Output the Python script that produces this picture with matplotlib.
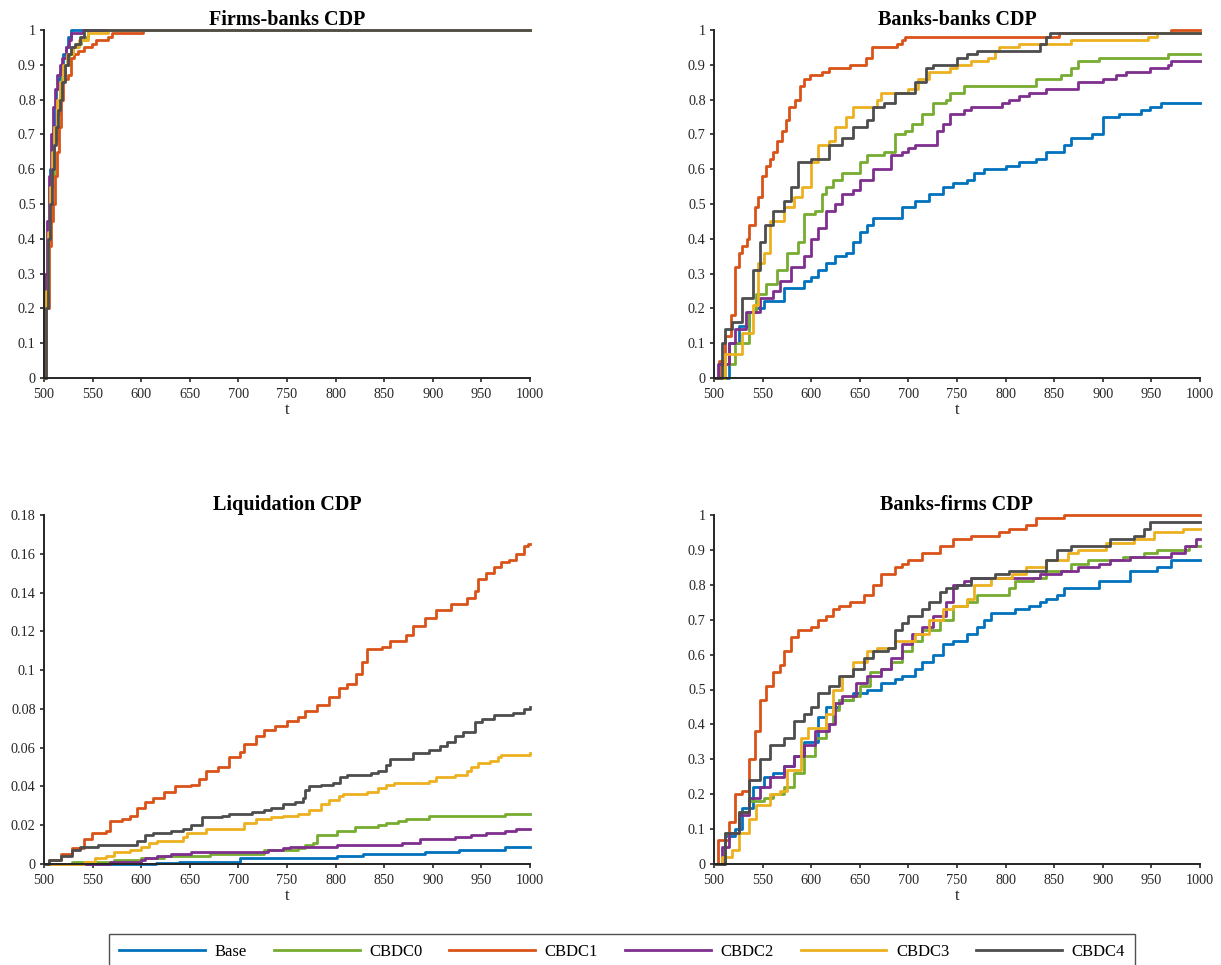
import matplotlib
matplotlib.use('Agg')
import matplotlib.pyplot as plt
from matplotlib.ticker import FuncFormatter
from matplotlib.lines import Line2D

# ---------------- data ----------------
SERIES = ['Base', 'CBDC0', 'CBDC1', 'CBDC2', 'CBDC3', 'CBDC4']
COLORS = ['#0072BD', '#77AC30', '#D95319', '#7E2F8E', '#EDB120', '#4D4D4D']

# Firms-banks CDP
FB_BASE_T = [500, 502, 504, 506, 508, 510, 512, 514, 516, 518, 520, 523, 525, 528, 1000]
FB_BASE_Y = [0, 0.25, 0.45, 0.60, 0.70, 0.78, 0.83, 0.86, 0.88, 0.90, 0.93, 0.95, 0.98, 1.0, 1.0]
FB_CBDC0_T = [500, 502, 504, 507, 510, 513, 516, 519, 522, 526, 530, 534, 538, 542, 545, 1000]
FB_CBDC0_Y = [0, 0.30, 0.45, 0.58, 0.68, 0.76, 0.82, 0.87, 0.90, 0.93, 0.95, 0.96, 0.97, 0.98, 1.0, 1.0]
FB_CBDC1_T = [500, 502, 505, 507, 509, 511, 513, 515, 518, 520, 525, 528, 531, 535, 541, 549, 554, 566, 570, 602, 1000]
FB_CBDC1_Y = [0, 0.20, 0.38, 0.45, 0.50, 0.58, 0.65, 0.72, 0.80, 0.86, 0.87, 0.92, 0.93, 0.94, 0.95, 0.96, 0.97, 0.98, 0.99, 1.0, 1.0]
FB_CBDC2_T = [500, 501, 503, 505, 507, 509, 511, 513, 516, 519, 523, 526, 528, 540, 1000]
FB_CBDC2_Y = [0, 0.30, 0.45, 0.58, 0.70, 0.78, 0.83, 0.87, 0.90, 0.92, 0.95, 0.97, 0.99, 1.0, 1.0]
FB_CBDC3_T = [500, 502, 504, 506, 508, 510, 513, 516, 520, 524, 530, 536, 545, 566, 1000]
FB_CBDC3_Y = [0, 0.25, 0.42, 0.55, 0.65, 0.72, 0.80, 0.85, 0.90, 0.93, 0.95, 0.97, 0.99, 1.0, 1.0]
FB_CBDC4_T = [500, 502, 504, 506, 508, 510, 512, 514, 516, 519, 522, 525, 528, 532, 537, 541, 1000]
FB_CBDC4_Y = [0, 0.20, 0.40, 0.50, 0.60, 0.67, 0.72, 0.77, 0.80, 0.85, 0.90, 0.93, 0.95, 0.96, 0.98, 1.0, 1.0]

# Banks-banks CDP
BB_BASE_T = [500, 515, 526, 536, 543, 551, 572, 593, 600, 607, 615, 625, 636, 643, 650, 657, 664, 693, 707, 721, 736, 746, 760, 767, 778, 800, 814, 831, 842, 860, 867, 889, 900, 917, 939, 949, 960, 1000]
BB_BASE_Y = [0, 0.10, 0.15, 0.19, 0.20, 0.22, 0.26, 0.28, 0.29, 0.31, 0.33, 0.35, 0.36, 0.39, 0.42, 0.44, 0.46, 0.49, 0.51, 0.53, 0.55, 0.56, 0.57, 0.59, 0.60, 0.61, 0.62, 0.63, 0.65, 0.67, 0.69, 0.70, 0.75, 0.76, 0.77, 0.78, 0.79, 0.79]
BB_CBDC0_T = [500, 504, 511, 522, 536, 543, 554, 565, 575, 586, 593, 604, 611, 615, 622, 632, 650, 657, 675, 686, 696, 704, 714, 725, 739, 743, 757, 817, 831, 857, 867, 874, 896, 967, 1000]
BB_CBDC0_Y = [0, 0, 0.04, 0.10, 0.19, 0.24, 0.27, 0.31, 0.36, 0.39, 0.47, 0.48, 0.53, 0.55, 0.57, 0.59, 0.62, 0.64, 0.65, 0.70, 0.71, 0.73, 0.76, 0.79, 0.80, 0.82, 0.84, 0.84, 0.86, 0.87, 0.89, 0.91, 0.92, 0.93, 0.93]
BB_CBDC1_T = [500, 505, 511, 518, 522, 526, 529, 534, 536, 542, 545, 549, 554, 558, 561, 565, 570, 574, 577, 583, 588, 593, 599, 611, 618, 640, 656, 663, 688, 693, 696, 855, 970, 1000]
BB_CBDC1_Y = [0, 0.05, 0.12, 0.18, 0.32, 0.36, 0.38, 0.40, 0.44, 0.49, 0.52, 0.58, 0.61, 0.63, 0.65, 0.68, 0.71, 0.74, 0.78, 0.80, 0.84, 0.86, 0.87, 0.88, 0.89, 0.90, 0.92, 0.95, 0.96, 0.97, 0.98, 0.99, 1.0, 1.0]
BB_CBDC2_T = [500, 504, 515, 522, 533, 547, 561, 568, 579, 593, 600, 607, 615, 625, 632, 643, 650, 664, 682, 693, 700, 707, 729, 736, 743, 757, 764, 796, 803, 814, 824, 842, 874, 900, 914, 924, 949, 967, 970, 1000]
BB_CBDC2_Y = [0, 0.04, 0.10, 0.14, 0.19, 0.23, 0.25, 0.28, 0.32, 0.35, 0.40, 0.43, 0.48, 0.50, 0.53, 0.54, 0.57, 0.60, 0.64, 0.65, 0.66, 0.67, 0.71, 0.73, 0.76, 0.77, 0.78, 0.79, 0.80, 0.81, 0.82, 0.83, 0.85, 0.86, 0.87, 0.88, 0.89, 0.90, 0.91, 0.91]
BB_CBDC3_T = [500, 511, 529, 540, 545, 551, 558, 572, 582, 591, 600, 607, 618, 625, 636, 643, 668, 672, 700, 710, 721, 743, 750, 764, 782, 789, 793, 814, 867, 946, 956, 1000]
BB_CBDC3_Y = [0, 0.07, 0.13, 0.21, 0.33, 0.36, 0.45, 0.49, 0.52, 0.55, 0.62, 0.67, 0.68, 0.72, 0.75, 0.78, 0.80, 0.82, 0.83, 0.86, 0.88, 0.89, 0.90, 0.91, 0.92, 0.94, 0.95, 0.96, 0.97, 0.98, 0.99, 0.99]
BB_CBDC4_T = [500, 508, 511, 519, 529, 540, 547, 552, 561, 572, 579, 586, 600, 618, 632, 643, 657, 664, 675, 686, 707, 718, 725, 750, 760, 771, 824, 835, 842, 846, 1000]
BB_CBDC4_Y = [0, 0.10, 0.14, 0.16, 0.23, 0.31, 0.39, 0.44, 0.48, 0.51, 0.55, 0.62, 0.63, 0.67, 0.69, 0.72, 0.74, 0.78, 0.79, 0.82, 0.85, 0.89, 0.90, 0.92, 0.93, 0.94, 0.94, 0.96, 0.98, 0.99, 0.99]

# Liquidation CDP
LQ_BASE_T = [500, 615, 639, 702, 801, 828, 892, 927, 974, 1000]
LQ_BASE_Y = [0, 0.0005, 0.001, 0.003, 0.004, 0.005, 0.006, 0.007, 0.009, 0.009]
LQ_CBDC0_T = [500, 529, 572, 600, 623, 671, 726, 761, 769, 777, 781, 801, 820, 844, 852, 864, 872, 896, 974, 1000]
LQ_CBDC0_Y = [0, 0.001, 0.002, 0.003, 0.004, 0.005, 0.007, 0.008, 0.010, 0.011, 0.015, 0.017, 0.019, 0.020, 0.021, 0.022, 0.023, 0.025, 0.026, 0.026]
LQ_CBDC1_T = [500, 505, 517, 529, 541, 549, 564, 568, 580, 588, 596, 604, 612, 623, 635, 651, 659, 667, 679, 690, 702, 706, 718, 726, 738, 750, 761, 769, 781, 793, 804, 812, 821, 827, 832, 848, 856, 872, 880, 892, 903, 919, 935, 943, 947, 955, 963, 970, 978, 986, 994, 998, 1000]
LQ_CBDC1_Y = [0, 0.002, 0.005, 0.008, 0.013, 0.016, 0.017, 0.022, 0.023, 0.025, 0.029, 0.032, 0.034, 0.037, 0.040, 0.041, 0.044, 0.048, 0.050, 0.055, 0.058, 0.062, 0.066, 0.069, 0.071, 0.074, 0.076, 0.079, 0.082, 0.086, 0.091, 0.093, 0.098, 0.104, 0.111, 0.112, 0.115, 0.118, 0.123, 0.127, 0.131, 0.134, 0.137, 0.141, 0.147, 0.150, 0.153, 0.156, 0.157, 0.160, 0.164, 0.165, 0.165]
LQ_CBDC2_T = [500, 568, 600, 604, 616, 631, 651, 730, 746, 753, 801, 868, 887, 923, 939, 955, 974, 986, 1000]
LQ_CBDC2_Y = [0, 0.001, 0.002, 0.003, 0.004, 0.005, 0.006, 0.007, 0.008, 0.009, 0.010, 0.011, 0.013, 0.014, 0.015, 0.016, 0.017, 0.018, 0.018]
LQ_CBDC3_T = [500, 541, 552, 564, 572, 588, 600, 608, 616, 643, 647, 667, 706, 718, 734, 746, 761, 773, 785, 793, 804, 808, 832, 844, 852, 860, 896, 903, 923, 935, 939, 947, 959, 967, 970, 1000]
LQ_CBDC3_Y = [0, 0.001, 0.003, 0.004, 0.006, 0.007, 0.009, 0.011, 0.012, 0.014, 0.016, 0.018, 0.021, 0.023, 0.024, 0.025, 0.026, 0.028, 0.031, 0.033, 0.035, 0.036, 0.037, 0.039, 0.041, 0.042, 0.043, 0.045, 0.046, 0.048, 0.050, 0.052, 0.053, 0.055, 0.056, 0.057]
LQ_CBDC4_T = [500, 505, 517, 529, 537, 556, 596, 604, 612, 631, 643, 651, 663, 683, 690, 714, 726, 734, 746, 758, 766, 769, 773, 785, 797, 805, 812, 836, 844, 852, 856, 880, 896, 907, 915, 923, 931, 943, 951, 963, 982, 994, 1000]
LQ_CBDC4_Y = [0, 0.002, 0.004, 0.007, 0.009, 0.010, 0.012, 0.015, 0.016, 0.017, 0.018, 0.020, 0.024, 0.025, 0.026, 0.027, 0.028, 0.029, 0.031, 0.032, 0.034, 0.038, 0.040, 0.041, 0.042, 0.045, 0.046, 0.047, 0.048, 0.051, 0.054, 0.057, 0.059, 0.061, 0.063, 0.066, 0.068, 0.073, 0.075, 0.077, 0.078, 0.080, 0.081]

# Banks-firms CDP
BF_BASE_T = [500, 511, 522, 529, 540, 551, 561, 572, 582, 593, 607, 615, 629, 643, 657, 672, 686, 693, 707, 714, 725, 736, 746, 760, 771, 778, 785, 810, 824, 835, 842, 853, 860, 896, 928, 956, 970, 1000]
BF_BASE_Y = [0, 0.08, 0.10, 0.16, 0.22, 0.25, 0.26, 0.28, 0.31, 0.35, 0.42, 0.45, 0.47, 0.49, 0.50, 0.52, 0.53, 0.54, 0.56, 0.58, 0.60, 0.63, 0.64, 0.66, 0.68, 0.70, 0.72, 0.73, 0.74, 0.75, 0.76, 0.77, 0.79, 0.81, 0.84, 0.85, 0.87, 0.87]
BF_CBDC0_T = [500, 511, 526, 536, 551, 561, 572, 582, 593, 604, 615, 622, 629, 643, 650, 661, 672, 682, 693, 704, 714, 732, 746, 760, 771, 803, 810, 828, 842, 867, 885, 921, 942, 956, 989, 1000]
BF_CBDC0_Y = [0, 0.09, 0.15, 0.18, 0.19, 0.20, 0.22, 0.26, 0.31, 0.36, 0.40, 0.44, 0.47, 0.48, 0.51, 0.55, 0.56, 0.58, 0.61, 0.64, 0.67, 0.70, 0.74, 0.75, 0.77, 0.79, 0.81, 0.82, 0.84, 0.86, 0.87, 0.88, 0.89, 0.90, 0.91, 0.91]
BF_CBDC1_T = [500, 504, 515, 522, 529, 536, 542, 547, 554, 561, 568, 572, 579, 586, 600, 607, 615, 622, 629, 640, 654, 664, 672, 686, 693, 700, 714, 732, 746, 764, 793, 803, 821, 831, 860, 1000]
BF_CBDC1_Y = [0, 0.07, 0.12, 0.20, 0.21, 0.30, 0.38, 0.47, 0.51, 0.55, 0.57, 0.61, 0.65, 0.67, 0.68, 0.70, 0.71, 0.73, 0.74, 0.75, 0.77, 0.80, 0.83, 0.85, 0.86, 0.87, 0.89, 0.91, 0.93, 0.94, 0.95, 0.96, 0.97, 0.99, 1.0, 1.0]
BF_CBDC2_T = [500, 508, 515, 526, 536, 547, 558, 572, 582, 593, 604, 618, 625, 632, 646, 657, 672, 682, 693, 704, 714, 725, 739, 746, 757, 764, 835, 857, 874, 896, 907, 928, 970, 985, 996, 1000]
BF_CBDC2_Y = [0, 0.05, 0.09, 0.14, 0.19, 0.22, 0.25, 0.28, 0.31, 0.34, 0.38, 0.40, 0.46, 0.48, 0.52, 0.54, 0.56, 0.59, 0.63, 0.66, 0.68, 0.71, 0.75, 0.80, 0.81, 0.82, 0.83, 0.84, 0.85, 0.86, 0.87, 0.88, 0.89, 0.91, 0.93, 0.93]
BF_CBDC3_T = [500, 508, 519, 526, 536, 543, 558, 568, 575, 590, 597, 604, 615, 622, 632, 643, 657, 668, 686, 707, 721, 736, 746, 760, 767, 785, 807, 821, 842, 864, 874, 903, 932, 953, 982, 1000]
BF_CBDC3_Y = [0, 0.02, 0.04, 0.09, 0.13, 0.17, 0.20, 0.21, 0.27, 0.36, 0.39, 0.39, 0.43, 0.50, 0.54, 0.58, 0.61, 0.62, 0.64, 0.66, 0.70, 0.73, 0.74, 0.76, 0.80, 0.82, 0.83, 0.85, 0.87, 0.89, 0.90, 0.92, 0.93, 0.95, 0.96, 0.96]
BF_CBDC4_T = [500, 511, 526, 536, 547, 558, 572, 582, 593, 600, 607, 618, 629, 643, 654, 664, 679, 686, 693, 700, 714, 721, 732, 739, 750, 764, 789, 803, 835, 842, 853, 867, 907, 932, 942, 949, 1000]
BF_CBDC4_Y = [0, 0.09, 0.15, 0.24, 0.30, 0.34, 0.36, 0.41, 0.43, 0.45, 0.49, 0.51, 0.54, 0.56, 0.59, 0.61, 0.62, 0.67, 0.69, 0.71, 0.73, 0.75, 0.78, 0.79, 0.80, 0.82, 0.83, 0.84, 0.84, 0.87, 0.90, 0.91, 0.93, 0.94, 0.96, 0.98, 0.98]

PANELS = [
    ('Firms-banks CDP', 1.0, [FB_BASE_T, FB_CBDC0_T, FB_CBDC1_T, FB_CBDC2_T, FB_CBDC3_T, FB_CBDC4_T],
     [FB_BASE_Y, FB_CBDC0_Y, FB_CBDC1_Y, FB_CBDC2_Y, FB_CBDC3_Y, FB_CBDC4_Y]),
    ('Banks-banks CDP', 1.0, [BB_BASE_T, BB_CBDC0_T, BB_CBDC1_T, BB_CBDC2_T, BB_CBDC3_T, BB_CBDC4_T],
     [BB_BASE_Y, BB_CBDC0_Y, BB_CBDC1_Y, BB_CBDC2_Y, BB_CBDC3_Y, BB_CBDC4_Y]),
    ('Liquidation CDP', 0.18, [LQ_BASE_T, LQ_CBDC0_T, LQ_CBDC1_T, LQ_CBDC2_T, LQ_CBDC3_T, LQ_CBDC4_T],
     [LQ_BASE_Y, LQ_CBDC0_Y, LQ_CBDC1_Y, LQ_CBDC2_Y, LQ_CBDC3_Y, LQ_CBDC4_Y]),
    ('Banks-firms CDP', 1.0, [BF_BASE_T, BF_CBDC0_T, BF_CBDC1_T, BF_CBDC2_T, BF_CBDC3_T, BF_CBDC4_T],
     [BF_BASE_Y, BF_CBDC0_Y, BF_CBDC1_Y, BF_CBDC2_Y, BF_CBDC3_Y, BF_CBDC4_Y]),
]

# ---------------- figure ----------------
plt.rcParams['font.family'] = ['Liberation Serif', 'DejaVu Serif']
AX_COL = '#262626'
W, H = 1221, 965
fig = plt.figure(figsize=(W / 100, H / 100), dpi=100)

boxes = [(44, 30, 530, 378), (714, 30, 1200, 378), (44, 515, 530, 864), (714, 515, 1200, 864)]

for (title, ymax, ts, ys), (x0, y0, x1, y1) in zip(PANELS, boxes):
    ax = fig.add_axes([x0 / W, 1 - y1 / H, (x1 - x0) / W, (y1 - y0) / H])
    for t, y, c in zip(ts, ys, COLORS):
        ax.plot(t, y, drawstyle='steps-post', color=c, lw=2.0, clip_on=False)
    ax.set_xlim(500, 1000)
    ax.set_ylim(0, ymax)
    ax.set_xticks(range(500, 1001, 50))
    step = 0.02 if ymax < 0.5 else 0.1
    n = int(round(ymax / step))
    ax.set_yticks([round(i * step, 3) for i in range(n + 1)])
    ax.yaxis.set_major_formatter(FuncFormatter(lambda v, p: '%g' % round(v, 4)))
    for s in ('top', 'right'):
        ax.spines[s].set_visible(False)
    for s in ('left', 'bottom'):
        ax.spines[s].set_color(AX_COL)
        ax.spines[s].set_linewidth(1.4)
    ax.tick_params(direction='out', length=3, width=1.2, colors=AX_COL, labelsize=10.3, pad=3)
    ax.tick_params(axis='x', pad=4)
    ax.set_title(title, fontweight='bold', fontsize=14.5, pad=0.5, color='black')
    ax.set_xlabel('t', fontsize=12, labelpad=1, color=AX_COL)

handles = [Line2D([], [], color=c, lw=2.0) for c in COLORS]
leg = fig.legend(handles, SERIES, loc='upper center',
                 bbox_to_anchor=(622 / W, 1 - 934 / H),
                 ncol=6, frameon=True, fancybox=False, edgecolor=AX_COL,
                 handlelength=5.15, handletextpad=0.57, columnspacing=1.62,
                 fontsize=12, borderaxespad=0, borderpad=0.6)
leg.get_frame().set_linewidth(1.0)

fig.savefig('out.png', dpi=100, facecolor='white')
